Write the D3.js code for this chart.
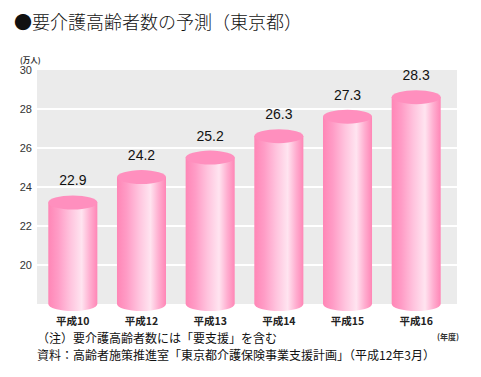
<!DOCTYPE html>
<html>
<head>
<meta charset="utf-8">
<script src="https://cdn.jsdelivr.net/npm/d3@7"></script>
<style>
  body { margin: 0; background: #fff; }
  svg { display: block; font-family: "Noto Sans CJK JP", sans-serif; }
</style>
</head>
<body>
<svg id="chart" width="481" height="377"></svg>
<script>
// data
var years = ['平成10', '平成12', '平成13', '平成14', '平成15', '平成16']
var values = [22.9, 24.2, 25.2, 26.3, 27.3, 28.3]
var yTicks = [20, 22, 24, 26, 28, 30]

var svg = d3.select('#chart')

var plot = {left: 37, right: 457, top: 70, bottom: 304}

var x = d3.scaleBand()
  .domain(years)
  .range([plot.left + 1, plot.right - 6])
  .paddingInner(0.286)
  .paddingOuter(0.15)

var y = d3.scaleLinear()
  .domain([18, 30])
  .range([plot.bottom, plot.top])

// title
svg.append('text')
  .attr('x', 14)
  .attr('y', 29)
  .attr('font-size', 18)
  .attr('font-weight', 300)
  .attr('fill', '#111')
  .text('●要介護高齢者数の予測（東京都）')

svg.append('text')
  .attr('x', 20)
  .attr('y', 63)
  .attr('font-size', 7.5)
  .attr('font-weight', 'bold')
  .attr('fill', '#333')
  .text('(万人)')

// background
svg.append('rect')
  .attr('x', plot.left)
  .attr('y', plot.top)
  .attr('width', plot.right - plot.left)
  .attr('height', plot.bottom - plot.top)
  .attr('fill', '#ebebeb')

// grid
svg.append('g')
  .selectAll('line')
  .data(yTicks.filter(d => d < 30))
  .join('line')
  .attr('x1', plot.left)
  .attr('x2', plot.right)
  .attr('y1', d => y(d))
  .attr('y2', d => y(d))
  .attr('stroke', '#fff')
  .attr('stroke-width', 2)

// y axis labels
var yAxis = svg.append('g')
  .attr('transform', `translate(${plot.left - 5},0)`)
  .call(d3.axisLeft(y).tickValues(yTicks).tickSize(0).tickPadding(0))
yAxis.select('.domain').remove()
yAxis.selectAll('text')
  .attr('font-family', 'Arial, "Liberation Sans", sans-serif')
  .attr('font-size', 11)
  .attr('fill', '#333')

// gradient
var defs = svg.append('defs')
var grad = defs.append('linearGradient').attr('id', 'body').attr('x1', 0).attr('x2', 1)
grad.append('stop').attr('offset', '0%').attr('stop-color', '#ff86b6')
grad.append('stop').attr('offset', '20%').attr('stop-color', '#ff9cc6')
grad.append('stop').attr('offset', '45%').attr('stop-color', '#ffc4de')
grad.append('stop').attr('offset', '68%').attr('stop-color', '#ffe4f0')
grad.append('stop').attr('offset', '85%').attr('stop-color', '#ffaed0')
grad.append('stop').attr('offset', '100%').attr('stop-color', '#ff86b6')

var ry = 7
var bars = svg.append('g')
  .selectAll('g')
  .data(values)
  .join('g')

bars.each(function (d, i) {
  var g = d3.select(this)
  var x0 = x(years[i])
  var w = x.bandwidth()
  var cx = x0 + w / 2
  var top = y(d) - 6
  var bot = plot.bottom
  // body with rounded bottom
  g.append('path')
    .attr('d', `M${x0},${top} L${x0},${bot} A${w / 2},${ry} 0 0 0 ${x0 + w},${bot} L${x0 + w},${top} Z`)
    .attr('fill', 'url(#body)')
  // cap
  g.append('ellipse')
    .attr('cx', cx)
    .attr('cy', top)
    .attr('rx', w / 2)
    .attr('ry', ry)
    .attr('fill', '#ff8fbe')
  // value label
  g.append('text')
    .attr('x', cx)
    .attr('y', top - ry - 10)
    .attr('text-anchor', 'middle')
    .attr('font-family', 'Arial, "Liberation Sans", sans-serif')
    .attr('font-size', 14)
    .attr('fill', '#111')
    .text(d.toFixed(1))
})

// x labels
svg.append('g')
  .selectAll('text')
  .data(years)
  .join('text')
  .attr('x', d => x(d) + x.bandwidth() / 2)
  .attr('y', 325)
  .attr('text-anchor', 'middle')
  .attr('font-size', 10.5)
  .attr('font-weight', 'bold')
  .attr('fill', '#222')
  .text(d => d)

svg.append('text')
  .attr('x', 459)
  .attr('y', 340)
  .attr('text-anchor', 'end')
  .attr('font-size', 8)
  .attr('font-weight', 'bold')
  .attr('fill', '#333')
  .text('(年度)')

// notes
svg.append('text')
  .attr('x', 37)
  .attr('y', 343)
  .attr('font-size', 12)
  .attr('fill', '#111')
  .text('（注）要介護高齢者数には「要支援」を含む')

svg.append('text')
  .attr('x', 37)
  .attr('y', 360)
  .attr('font-size', 12)
  .attr('fill', '#111')
  .text('資料：高齢者施策推進室「東京都介護保険事業支援計画」（平成12年3月）')
</script>
</body>
</html>
